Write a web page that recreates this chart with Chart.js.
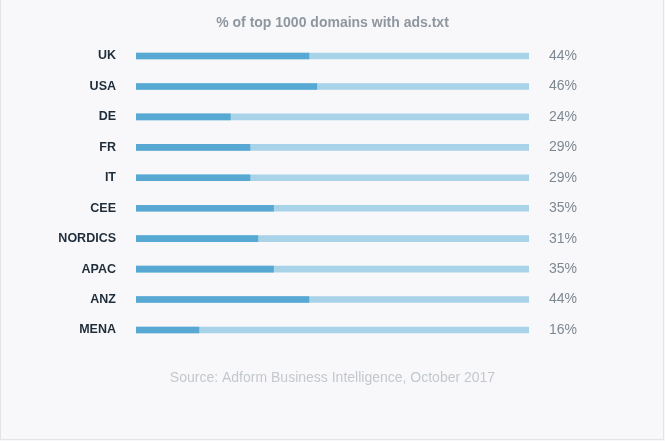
<!DOCTYPE html>
<html>
<head>
<meta charset="utf-8">
<script src="https://cdn.jsdelivr.net/npm/chart.js@4.4.1/dist/chart.umd.min.js"></script>
<style>
  html, body { margin: 0; padding: 0; background: #f8f8fa; }
  #wrap { position: relative; width: 665px; height: 441px; }
</style>
</head>
<body>
<div id="wrap"><canvas id="c" width="665" height="441"></canvas></div>
<script>
const categories = ["UK", "USA", "DE", "FR", "IT", "CEE", "NORDICS", "APAC", "ANZ", "MENA"];
const shareValues = [44, 46, 24, 29, 29, 35, 31, 35, 44, 16];
const trackValues = [100, 100, 100, 100, 100, 100, 100, 100, 100, 100];
const valueLabels = ["44%", "46%", "24%", "29%", "29%", "35%", "31%", "35%", "44%", "16%"];
const titleText = "% of top 1000 domains with ads.txt";
const sourceText = "Source: Adform Business Intelligence, October 2017";

const frame = {
  id: 'frame',
  beforeDraw(chart) {
    const ctx = chart.ctx;
    ctx.save();
    ctx.fillStyle = '#f8f8fa';
    ctx.fillRect(0, 0, chart.width, chart.height);
    ctx.strokeStyle = '#e4e4e7';
    ctx.lineWidth = 1;
    ctx.beginPath();
    ctx.moveTo(0.5, 0);
    ctx.lineTo(0.5, 439.5);
    ctx.lineTo(663.5, 439.5);
    ctx.lineTo(663.5, 0);
    ctx.stroke();
    ctx.restore();
  }
};

new Chart(document.getElementById('c'), {
  type: 'bar',
  data: {
    labels: categories,
    datasets: [
      {
        data: shareValues,
        backgroundColor: '#57a9d3',
        grouped: false,
        barThickness: 6,
        borderWidth: 0
      },
      {
        data: trackValues,
        backgroundColor: '#a9d3e8',
        grouped: false,
        barThickness: 6,
        borderWidth: 0
      }
    ]
  },
  options: {
    indexAxis: 'y',
    responsive: false,
    animation: false,
    devicePixelRatio: 1,
    layout: { padding: { left: 0, right: 0, top: 0, bottom: 0 } },
    plugins: {
      legend: { display: false },
      tooltip: { enabled: false },
      title: {
        display: true,
        text: titleText,
        color: '#8e979f',
        font: { family: 'Liberation Sans, Arial, sans-serif', size: 14, weight: 'bold' },
        padding: { top: 15, bottom: 9 }
      },
      subtitle: {
        display: true,
        position: 'bottom',
        text: sourceText,
        color: '#c3c8cd',
        font: { family: 'Liberation Sans, Arial, sans-serif', size: 14, weight: 'normal' },
        padding: { top: 25, bottom: 54 }
      }
    },
    scales: {
      x: { display: false, min: 0, max: 100 },
      y: {
        position: 'left',
        grid: { display: false },
        border: { display: false },
        ticks: {
          color: '#1f2d3a',
          padding: 12,
          font: { family: 'Liberation Sans, Arial, sans-serif', size: 12.5, weight: 'bold' }
        },
        afterFit(axis) { axis.width = 136; }
      },
      y2: {
        position: 'right',
        type: 'category',
        labels: valueLabels,
        grid: { display: false },
        border: { display: false },
        ticks: {
          color: '#7d8892',
          padding: 12,
          font: { family: 'Liberation Sans, Arial, sans-serif', size: 14 }
        },
        afterFit(axis) { axis.width = 136; }
      }
    }
  },
  plugins: [frame]
});
</script>
</body>
</html>
